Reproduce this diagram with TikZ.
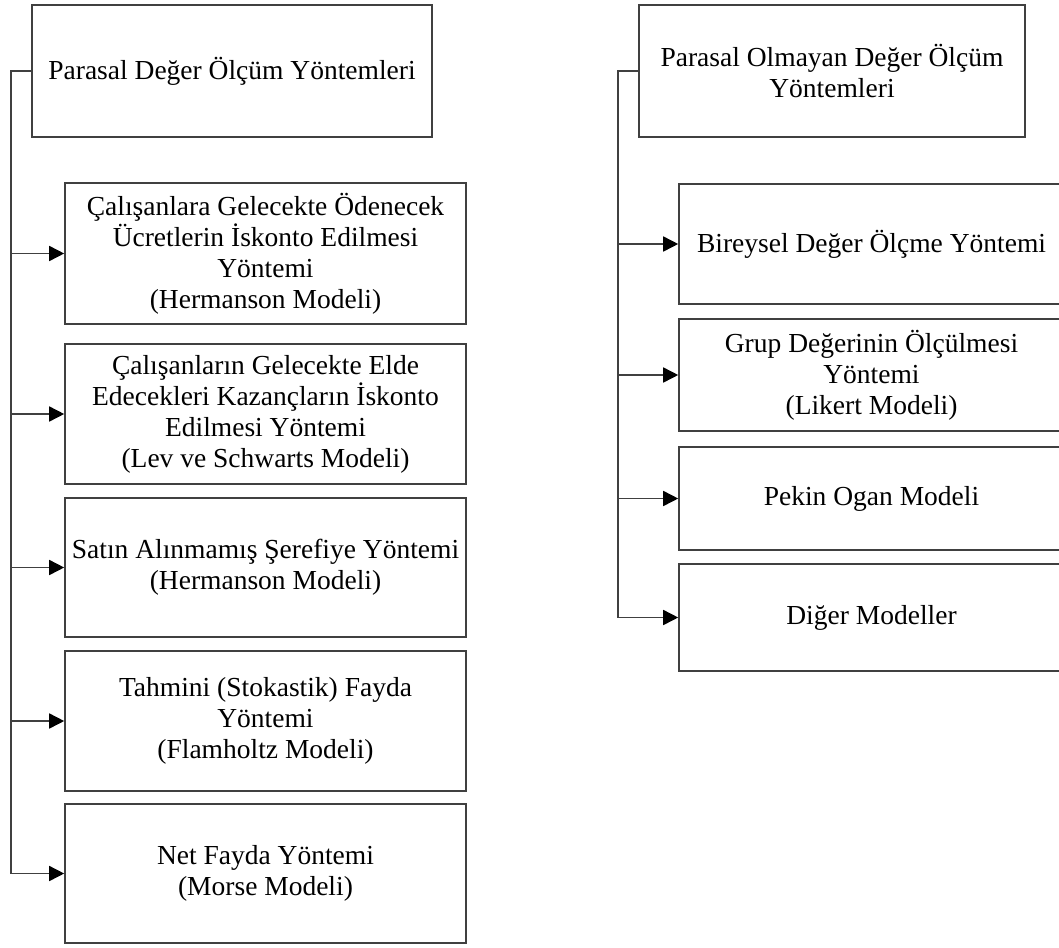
\documentclass[tikz,border=0pt]{standalone}
\usepackage{fontspec}
\setmainfont{Liberation Serif}
\usetikzlibrary{arrows.meta}
\definecolor{linegray}{HTML}{404040}
\tikzset{
  box/.style={draw=linegray, line width=1.6pt, fill=white, inner sep=0pt, align=center,
    font=\fontsize{27.5}{31}\selectfont},
  conn/.style={draw=linegray, line width=1.6pt},
  arr/.style={conn, -{Triangle[length=15pt,width=15pt,color=black]}}
}
\begin{document}
\begin{tikzpicture}[x=1pt,y=-1pt]
\useasboundingbox (0,0) rectangle (1059,947);
\clip (0,0) rectangle (1059,947);
% left column
\node[box, minimum width=400pt, minimum height=132pt] (ptop) at (232,71) {Parasal Değer Ölçüm Yöntemleri};
\node[box, minimum width=401pt, minimum height=141pt] (b1) at (265.5,253.5) {Çalışanlara Gelecekte Ödenecek\\Ücretlerin İskonto Edilmesi\\Yöntemi\\(Hermanson Modeli)};
\node[box, minimum width=401pt, minimum height=140pt] (b2) at (265.5,414) {Çalışanların Gelecekte Elde\\Edecekleri Kazançların İskonto\\Edilmesi Yöntemi\\(Lev ve Schwarts Modeli)};
\node[box, minimum width=401pt, minimum height=139pt] (b3) at (265.5,567.5) {Satın Alınmamış Şerefiye Yöntemi\\(Hermanson Modeli)};
\node[box, minimum width=401pt, minimum height=140pt] (b4) at (265.5,721) {Tahmini (Stokastik) Fayda\\Yöntemi\\(Flamholtz Modeli)};
\node[box, minimum width=401pt, minimum height=139pt] (b5) at (265.5,873.5) {Net Fayda Yöntemi\\(Morse Modeli)};
% right column
\node[box, minimum width=386pt, minimum height=132pt] (nptop) at (832,71) {Parasal Olmayan Değer Ölçüm\\Yöntemleri};
\node[box, minimum width=385pt, minimum height=120pt] (r1) at (871.5,244) {Bireysel Değer Ölçme Yöntemi};
\node[box, minimum width=385pt, minimum height=112pt] (r2) at (871.5,375) {Grup Değerinin Ölçülmesi\\Yöntemi\\(Likert Modeli)};
\node[box, minimum width=385pt, minimum height=103pt] (r3) at (871.5,498.5) {Pekin Ogan Modeli};
\node[box, minimum width=385pt, minimum height=107pt] (r4) at (871.5,617.5) {Diğer Modeller};
% left connectors
\coordinate (L) at (11,71);
\draw[conn] (ptop.west) -- (L) -- (L |- b5.west);
\foreach \b in {b1,b2,b3,b4,b5}{
  \draw[arr] (L |- \b.west) -- (\b.west);
}
% right connectors
\coordinate (R) at (618,71);
\draw[conn] (nptop.west) -- (R) -- (R |- r4.west);
\foreach \b in {r1,r2,r3,r4}{
  \draw[arr] (R |- \b.west) -- (\b.west);
}
\end{tikzpicture}
\end{document}
